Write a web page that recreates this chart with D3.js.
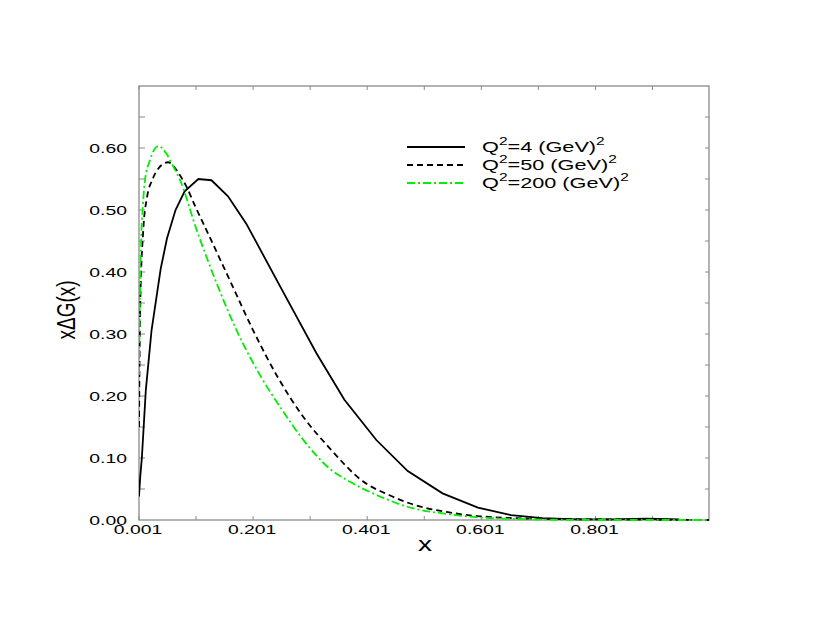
<!DOCTYPE html>
<html><head><meta charset="utf-8">
<script src="https://cdn.jsdelivr.net/npm/d3@7"></script>
<style>body{margin:0;background:#fff}</style></head>
<body>
<script>
// ---- data ----
const q4X  = [0.001,0.003,0.006,0.013,0.023,0.039,0.05,0.065,0.081,0.105,0.128,0.157,0.189,0.25,0.312,0.361,0.417,0.472,0.533,0.595,0.653,0.708,0.77,0.83,0.89,0.948];
const q4Y  = [0.038,0.068,0.10,0.21,0.306,0.405,0.454,0.50,0.53,0.55,0.548,0.522,0.478,0.374,0.269,0.194,0.129,0.079,0.043,0.020,0.008,0.003,0.001,0.001,0.002,0.001];
const q50X = [0.001,0.003,0.0085,0.015,0.025,0.035,0.052,0.07,0.084,0.1,0.119,0.16,0.201,0.245,0.29,0.335,0.394,0.44,0.475,0.54,0.598,0.7,0.8,0.9,1.0];
const q50Y = [0.15,0.34,0.468,0.52,0.55,0.567,0.577,0.56,0.538,0.505,0.468,0.387,0.306,0.229,0.165,0.116,0.062,0.04,0.027,0.013,0.006,0.002,0.001,0.0005,0];
const q200X= [0.001,0.002,0.004,0.008,0.0115,0.02,0.035,0.049,0.06,0.073,0.102,0.137,0.172,0.216,0.25,0.29,0.335,0.37,0.411,0.481,0.539,0.598,0.7,0.8,0.9,1.0];
const q200Y= [0.234,0.318,0.425,0.51,0.548,0.58,0.603,0.591,0.572,0.548,0.468,0.382,0.306,0.229,0.18,0.128,0.083,0.062,0.043,0.019,0.010,0.004,0.001,0,0,0];
const xTickVals   = [0.001,0.201,0.401,0.601,0.801];
const xTickLabels = ["0.001","0.201","0.401","0.601","0.801"];
const xMinorVals  = [0.001,0.101,0.201,0.301,0.401,0.501,0.601,0.701,0.801,0.901];
const yTickVals   = [0,0.1,0.2,0.3,0.4,0.5,0.6];
const yTickLabels = ["0.00","0.10","0.20","0.30","0.40","0.50","0.60"];
const yMinorVals  = [0.05,0.1,0.15,0.2,0.25,0.3,0.35,0.4,0.45,0.5,0.55,0.6,0.65];
const seriesNames = ["4","50","200"];

const W=830,H=623, L=139, R=709, T=86, B=520;
const svg=d3.select("body").append("svg").attr("width",W).attr("height",H);
const x=d3.scaleLinear().domain([0.001,1.0]).range([L,R]);
const y=d3.scaleLinear().domain([0,0.7]).range([B,T]);
const FONT="'Liberation Sans', Arial, Helvetica, sans-serif";
const SX=1.55;
const frameCol="#8a8a8a";

// ticks
const g=svg.append("g");
xMinorVals.forEach(v=>{
  g.append("line").attr("x1",x(v)).attr("x2",x(v)).attr("y1",B).attr("y2",B-4).attr("stroke",frameCol).attr("stroke-width",1);
  g.append("line").attr("x1",x(v)).attr("x2",x(v)).attr("y1",T).attr("y2",T+4).attr("stroke",frameCol).attr("stroke-width",1);
});
yMinorVals.forEach(v=>{
  g.append("line").attr("x1",L).attr("x2",L+6).attr("y1",y(v)).attr("y2",y(v)).attr("stroke",frameCol).attr("stroke-width",1);
  g.append("line").attr("x1",R).attr("x2",R-4).attr("y1",y(v)).attr("y2",y(v)).attr("stroke",frameCol).attr("stroke-width",1);
});
svg.append("rect").attr("x",L).attr("y",T).attr("width",R-L).attr("height",B-T)
  .attr("fill","none").attr("stroke",frameCol).attr("stroke-width",1.3);

function stretched(txt,px,py,anchor,size,sx){
  return svg.append("text").attr("transform",`translate(${px},${py}) scale(${sx},1)`)
    .attr("text-anchor",anchor).attr("font-family",FONT).attr("font-size",size).attr("fill","#000").text(txt);
}
xTickVals.forEach((v,i)=>stretched(xTickLabels[i],x(v)-1,534,"middle",12.5,SX));
yTickVals.forEach((v,i)=>stretched(yTickLabels[i],127,y(v)+4.5,"end",12.5,SX));

// axis titles
stretched("x",425,551,"middle",20,1.4);
svg.append("text").attr("transform","translate(75,310) scale(1.4,1) rotate(-90)")
  .attr("text-anchor","middle").attr("font-family",FONT).attr("font-size",19).text("xΔG(x)");

// curves
const series=[
  {xs:q4X, ys:q4Y, color:"#000", dash:null, curve:d3.curveLinear},
  {xs:q50X, ys:q50Y, color:"#000", dash:"6,4", curve:d3.curveMonotoneX},
  {xs:q200X, ys:q200Y, color:"#00ee00", dash:"8,3,2,3", curve:d3.curveMonotoneX}
];
svg.append("clipPath").attr("id","pc").append("rect").attr("x",L).attr("y",T).attr("width",R-L).attr("height",B-T+2);
series.forEach(s=>{
  const line=d3.line().x(d=>x(d[0])).y(d=>y(d[1])).curve(s.curve);
  svg.append("path").datum(s.xs.map((v,i)=>[v,s.ys[i]])).attr("d",line)
    .attr("fill","none").attr("stroke",s.color).attr("stroke-width",1.8)
    .attr("stroke-dasharray",s.dash).attr("clip-path","url(#pc)");
});

// legend
const legY=[147,165,183];
series.forEach((s,i)=>{
  svg.append("line").attr("x1",407).attr("x2",465).attr("y1",legY[i]).attr("y2",legY[i])
    .attr("stroke",s.color).attr("stroke-width",1.8).attr("stroke-dasharray",s.dash);
  const t=svg.append("text").attr("transform",`translate(482,${legY[i]+5}) scale(1.55,1)`)
    .attr("font-family",FONT).attr("font-size",14).attr("fill","#000");
  t.append("tspan").text("Q");
  t.append("tspan").attr("font-size",10).attr("dy",-7).text("2");
  t.append("tspan").attr("dy",7).text("="+seriesNames[i]+" (GeV)");
  t.append("tspan").attr("font-size",10).attr("dy",-7).text("2");
});
</script>
</body></html>
